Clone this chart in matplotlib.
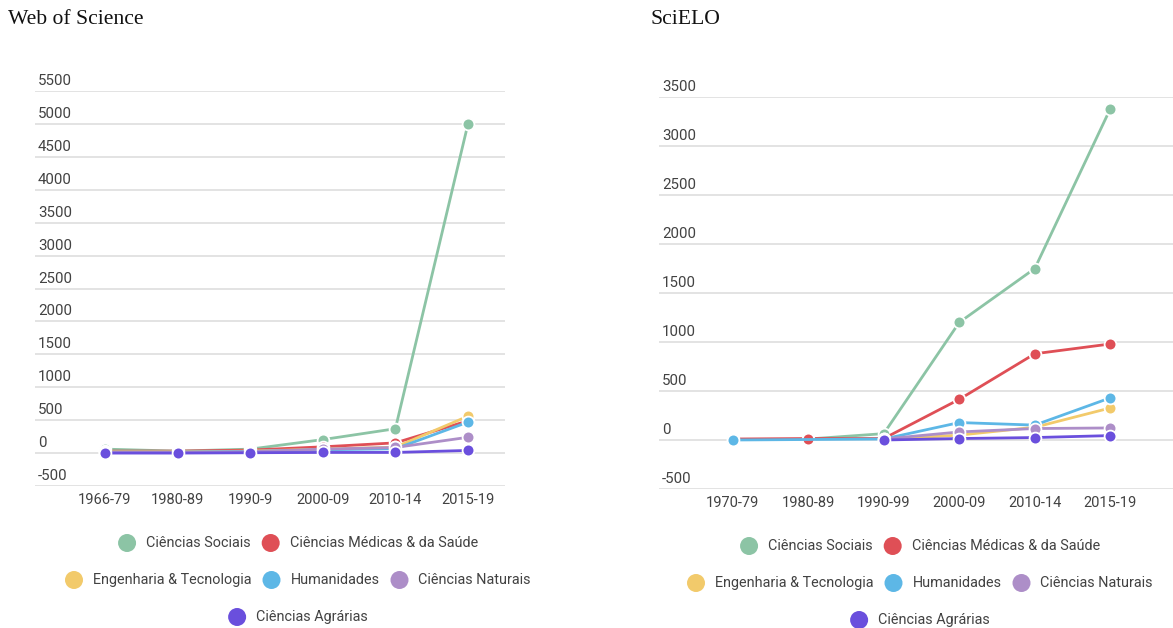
import numpy as np
import matplotlib
matplotlib.use("Agg")
import matplotlib.pyplot as plt
import matplotlib.transforms as mtransforms

# dados
series = ["Ciências Sociais", "Ciências Médicas & da Saúde", "Engenharia & Tecnologia",
          "Humanidades", "Ciências Naturais", "Ciências Agrárias"]
colors = ["#8cc4a5", "#df4f56", "#f2ca6b", "#5db7e6", "#ad8ec8", "#6a4fdd"]

wos_periods = ["1966-79", "1980-89", "1990-9", "2000-09", "2010-14", "2015-19"]
wos_sociais = [60, 30, 60, 205, 370, 5000]
wos_medicas = [30, 30, 45, 95, 155, 490]
wos_engenharia = [20, 20, 30, 60, 90, 560]
wos_humanidades = [15, 15, 25, 50, 65, 470]
wos_naturais = [10, 10, 20, 60, 85, 240]
wos_agrarias = [0, 0, 5, 10, 10, 40]

sci_periods = ["1970-79", "1980-89", "1990-99", "2000-09", "2010-14", "2015-19"]
sci_sociais = [None, 10, 65, 1200, 1750, 3380]
sci_medicas = [10, 15, 15, 415, 880, 980]
sci_engenharia = [None, None, 5, 50, 130, 327]
sci_humanidades = [0, None, 10, 178, 152, 430]
sci_naturais = [None, None, 10, 82, 117, 123]
sci_agrarias = [None, None, 0, 15, 25, 45]

wos_ticks = list(range(-500, 5501, 500))
sci_ticks = list(range(-500, 3501, 500))

W, H = 1173, 628
fig = plt.figure(figsize=(W / 100, H / 100), dpi=100)
fig.patch.set_facecolor("white")
txt_color = "#424242"
font = "Roboto"


def px_box(x0, x1, ytop, ybot):
    return [x0 / W, 1 - ybot / H, (x1 - x0) / W, (ybot - ytop) / H]


def draw_panel(ax, periods, data, ticks, xlim):
    ax.set_xlim(*xlim)
    ax.set_ylim(ticks[0], ticks[-1])
    for s in ax.spines.values():
        s.set_visible(False)
    ax.set_yticks(ticks)
    ax.set_yticklabels([])
    ax.tick_params(length=0)
    ax.grid(axis="y", color="#e0e0e0", lw=1.3)
    ax.set_axisbelow(True)
    ax.set_xticks(range(len(periods)))
    ax.set_xticklabels(periods, fontsize=10.5, family=font, color=txt_color)
    ax.tick_params(axis="x", pad=5)
    trans = mtransforms.blended_transform_factory(ax.transAxes, ax.transData)
    off = mtransforms.offset_copy(trans, fig=fig, x=3, y=3, units="dots")
    for t in ticks:
        ax.text(0, t, str(t), transform=off, fontsize=10.8, family=font,
                color=txt_color, va="bottom", ha="left")
    for vals, c in zip(data, colors):
        xs = [i for i, v in enumerate(vals) if v is not None]
        ys = [v for v in vals if v is not None]
        ax.plot(xs, ys, color=c, lw=2, marker="o", ms=8.5, mfc=c,
                mec="white", mew=1.3, solid_joinstyle="round")


ax1 = fig.add_axes(px_box(35, 505, 91, 486))
draw_panel(ax1, wos_periods,
           [wos_sociais, wos_medicas, wos_engenharia, wos_humanidades, wos_naturais, wos_agrarias],
           wos_ticks, (-0.964, 5.51))

ax2 = fig.add_axes(px_box(659, 1173, 97, 489))
draw_panel(ax2, sci_periods,
           [sci_sociais, sci_medicas, sci_engenharia, sci_humanidades, sci_naturais, sci_agrarias],
           sci_ticks, (-0.976, 5.83))

fig.text(8 / W, 1 - 20 / H, "Web of Science", family="Liberation Serif", fontsize=15.6,
         color="#111111", va="center", ha="left")
fig.text(651 / W, 1 - 20 / H, "SciELO", family="Liberation Serif", fontsize=15.6,
         color="#111111", va="center", ha="left")

# legendas desenhadas numa camada por cima em pixeis
lay = fig.add_axes([0, 0, 1, 1])
lay.set_xlim(0, W)
lay.set_ylim(H, 0)
lay.axis("off")
renderer = fig.canvas.get_renderer()

rows = [[0, 1], [2, 3, 4], [5]]
r_circ = 9
gap_text = 10
gap_item = 11
leg_size = 10.4


def legend(cx, row_ys):
    for row, y in zip(rows, row_ys):
        widths = []
        for i in row:
            t = lay.text(0, 0, series[i], fontsize=leg_size, family=font)
            widths.append(t.get_window_extent(renderer).width)
            t.remove()
        total = sum(2 * r_circ + gap_text + w for w in widths) + gap_item * (len(row) - 1)
        x = cx - total / 2
        for i, w in zip(row, widths):
            lay.scatter([x + r_circ], [y], s=(2 * r_circ * 0.72) ** 2, color=colors[i],
                        edgecolors="none")
            lay.text(x + 2 * r_circ + gap_text, y, series[i], fontsize=leg_size, family=font,
                     color=txt_color, va="center", ha="left")
            x += 2 * r_circ + gap_text + w + gap_item


legend(298, [543, 580, 617])
legend(920, [546, 583, 620])

fig.savefig("out.png", dpi=100)
